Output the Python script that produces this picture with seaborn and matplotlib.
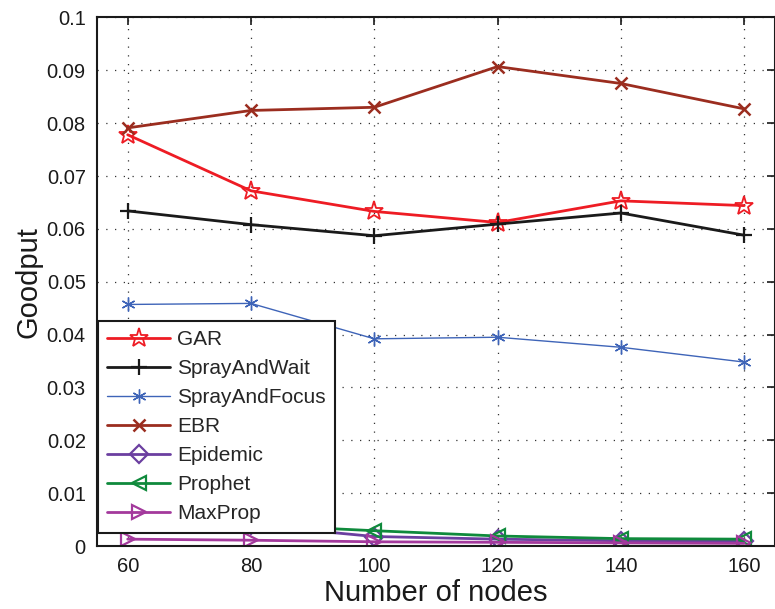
import matplotlib
matplotlib.use("Agg")
import matplotlib.pyplot as plt
import seaborn as sns
import pandas as pd

nodes = [60, 80, 100, 120, 140, 160]

gar = [0.0778, 0.0672, 0.0633, 0.0612, 0.0653, 0.0644]
spray_and_wait = [0.0634, 0.0608, 0.0587, 0.0609, 0.0630, 0.0588]
spray_and_focus = [0.0457, 0.0459, 0.0392, 0.0395, 0.0376, 0.0348]
ebr = [0.0791, 0.0824, 0.0830, 0.0907, 0.0875, 0.0827]
epidemic = [0.0050, 0.0040, 0.0018, 0.0013, 0.0010, 0.0009]
prophet = [0.0052, 0.0040, 0.0029, 0.0019, 0.0014, 0.0013]
maxprop = [0.0013, 0.0011, 0.0008, 0.0007, 0.0006, 0.0005]

yticks = [0, 0.01, 0.02, 0.03, 0.04, 0.05, 0.06, 0.07, 0.08, 0.09, 0.1]
ytick_labels = ["0", "0.01", "0.02", "0.03", "0.04", "0.05", "0.06", "0.07", "0.08", "0.09", "0.1"]

sns.set_theme(style="white")
plt.rcParams["font.family"] = ["Liberation Sans", "DejaVu Sans"]

fig = plt.figure(figsize=(7.75, 6.09), dpi=100)
ax = fig.add_axes([0.125, 0.1034, 0.875, 0.868])

series = [
    ("GAR", gar, "#ee1c24", "*", 2.0, 14, 1.3),
    ("SprayAndWait", spray_and_wait, "#1a1a1a", "+", 2.0, 12, 1.6),
    ("SprayAndFocus", spray_and_focus, "#3e64b8", (6, 2, 0), 1.0, 10, 1.0),
    ("EBR", ebr, "#9b2d1f", "x", 2.0, 8, 1.8),
    ("Epidemic", epidemic, "#6b3fa0", "D", 2.0, 9, 1.6),
    ("Prophet", prophet, "#0f8a3c", "<", 2.0, 10, 1.6),
    ("MaxProp", maxprop, "#a3399c", ">", 2.0, 10, 1.6),
]

for name, vals, color, mk, lw, ms, mew in series:
    df = pd.DataFrame({"nodes": nodes, "goodput": vals})
    sns.lineplot(data=df, x="nodes", y="goodput", ax=ax, color=color,
                 linewidth=lw, marker=mk, markersize=ms,
                 markerfacecolor="none", markeredgecolor=color,
                 markeredgewidth=mew, label=name)

ax.set_xlim(55, 165)
ax.set_ylim(0, 0.1)
ax.set_xticks(nodes)
ax.set_xticklabels([str(n) for n in nodes])
ax.set_yticks(yticks)
ax.set_yticklabels(ytick_labels)

ax.grid(True, linestyle=(0, (1, 6)), color="#333333", linewidth=0.9)
ax.tick_params(axis="both", direction="in", length=6, width=1.2,
               top=True, right=True, labelsize=14.5, colors="#1a1a1a",
               pad=8)
for side in ["left", "bottom", "top", "right"]:
    ax.spines[side].set_color("#1a1a1a")
    ax.spines[side].set_linewidth(1.5)

ax.set_xlabel("Number of nodes", fontsize=21, color="#1a1a1a", labelpad=2)
ax.set_ylabel("Goodput", fontsize=21, color="#1a1a1a", labelpad=3)

leg = ax.legend(loc="lower left", bbox_to_anchor=(0.0015, 0.025),
                fontsize=15, frameon=True, fancybox=False,
                edgecolor="#1a1a1a", framealpha=1, handlelength=3.0,
                handletextpad=0.35, labelspacing=0.48, borderpad=0.45,
                borderaxespad=0)
leg.get_frame().set_linewidth(1.5)

fig.savefig("out.png", dpi=100)
